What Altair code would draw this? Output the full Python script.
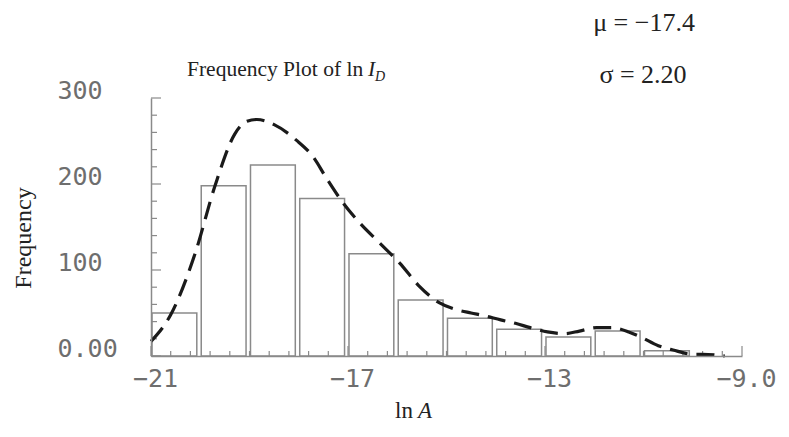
import altair as alt
import pandas as pd

# ---- data ----
bin_starts = [-21, -20, -19, -18, -17, -16, -15, -14, -13, -12, -11]
counts = [50, 198, 222, 183, 119, 65, 44, 31, 22, 29, 6]

curve_x = [-21.0, -20.6, -20.1, -19.7, -19.3, -19.05, -18.85, -18.5, -18.05, -17.7,
           -17.45, -17.1, -16.75, -16.35, -15.95, -15.55, -15.15, -14.8, -14.5,
           -14.25, -13.9, -13.6, -13.3, -12.95, -12.6, -12.3, -11.95, -11.65,
           -11.3, -11.05, -10.7, -10.4, -10.0, -9.8, -9.35]
curve_y = [17, 48, 120, 198, 258, 273, 275, 269, 251, 231,
           208, 178, 154, 131, 108, 81, 62, 54, 50,
           47, 42, 38, 33, 28, 26, 29, 33, 33,
           28, 22, 12, 7, 2, 2, 0]

x_tick_values = [-21, -17, -13, -9]
x_tick_labels = ["\u221221", "\u221217", "\u221213", "\u22129.0"]
y_tick_values = [0, 100, 200, 300]
y_tick_labels = ["0.00", "100", "200", "300"]

x_minor_ticks = [round(-21 + 0.4 * i, 2) for i in range(31)]
x_minor_ticks = [t for t in x_minor_ticks if t not in x_tick_values]
y_minor_ticks = [v for v in range(0, 301, 20) if v not in y_tick_values]

mu_text = "\u03bc = \u221217.4"
sigma_text = "\u03c3 = 2.20"

# ---- layout ----
W, H = 591, 258
GRAY = "#8a8a8a"
LABEL_GRAY = "#6e6e6e"
SERIF = "Liberation Serif"
MONO = "DejaVu Sans Mono"

def label_expr(values, labels):
    expr = "''"
    for v, l in reversed(list(zip(values, labels))):
        expr = f"datum.value == {v} ? '{l}' : ({expr})"
    return expr

xscale = alt.Scale(domain=[-21, -9], nice=False, zero=False)
yscale = alt.Scale(domain=[0, 300], nice=False, zero=True)

x_axis = alt.Axis(
    values=x_tick_values, labelExpr=label_expr(x_tick_values, x_tick_labels),
    title=None, grid=False, ticks=False, tickSize=0, domainColor=GRAY,
    domainWidth=1.5, labelFont=MONO, labelFontSize=25, labelColor=LABEL_GRAY,
    labelBaseline="alphabetic", labelPadding=30, labelOffset=4,
    labelFlush=False, labelOverlap=False, labelBound=False, zindex=1)
y_axis = alt.Axis(
    values=y_tick_values, labelExpr=label_expr(y_tick_values, y_tick_labels),
    title=None, grid=False, ticks=False, tickSize=0, domainColor=GRAY,
    domainWidth=1.5, labelFont=MONO, labelFontSize=25, labelColor=LABEL_GRAY,
    labelAlign="left", labelBaseline="alphabetic", labelPadding=94,
    labelFlush=False, labelOverlap=False, labelBound=False, zindex=1)

bars_df = pd.DataFrame({"start": bin_starts, "count": counts})
bars = alt.Chart(bars_df).transform_calculate(
    x0="datum.start + 0.02", x1="datum.start + 0.93"
).mark_bar(fill="white", stroke=GRAY, strokeWidth=1.5).encode(
    x=alt.X("x0:Q", scale=xscale, axis=x_axis),
    x2="x1:Q",
    y=alt.Y("count:Q", scale=yscale, axis=y_axis),
    y2=alt.datum(0),
)

def xticks(vals, length):
    return alt.Chart(pd.DataFrame({"t": vals})).mark_rule(color=GRAY, strokeWidth=1.2).encode(
        x=alt.X("t:Q", scale=xscale, axis=x_axis),
        y=alt.value(H), y2=alt.value(H - length))

def yticks(vals, length):
    return alt.Chart(pd.DataFrame({"t": vals})).mark_rule(color=GRAY, strokeWidth=1.2).encode(
        y=alt.Y("t:Q", scale=yscale, axis=y_axis),
        x=alt.value(0), x2=alt.value(length))

curve = alt.Chart(pd.DataFrame({"x": curve_x, "y": curve_y})).mark_line(
    color="#1a1a1a", strokeWidth=3.2, strokeDash=[18, 9], interpolate="monotone"
).encode(x=alt.X("x:Q", scale=xscale, axis=x_axis),
         y=alt.Y("y:Q", scale=yscale, axis=y_axis))

def text(t, x, y, size=26, align="left", baseline="alphabetic", style="normal", angle=0, color="#222222"):
    kw = dict(font=SERIF, fontSize=size, align=align, baseline=baseline, fontStyle=style, color=color)
    if angle:
        kw["angle"] = angle
    return alt.Chart(pd.DataFrame({"t": [t]})).mark_text(**kw).encode(
        text="t:N", x=alt.value(x), y=alt.value(y))

texts = [
    text("Frequency Plot of ln", 36, -22, size=21.5),
    text("I", 217, -22, size=21.5, style="italic"),
    text("D", 224, -17, size=14, style="italic"),
    text(mu_text, 493, -67, align="center"),
    text(sigma_text, 492, -15, align="center"),
    text("Frequency", -127, 140, size=24, align="center", baseline="middle", angle=270),
    text("ln", 244, 320, size=23),
    text("A", 267, 320, size=23, style="italic"),
]

chart = alt.layer(
    bars, xticks(x_minor_ticks, 5), xticks(x_tick_values, 10),
    yticks(y_minor_ticks, 6), yticks(y_tick_values, 10), curve, *texts
).properties(
    width=W, height=H,
    padding={"left": 151, "top": 98, "right": 47, "bottom": 81},
    autosize=alt.AutoSizeParams(type="none"),
    background="white",
).configure_view(strokeWidth=0)

chart.save("out.html", embed_options={"renderer": "svg", "actions": False})
